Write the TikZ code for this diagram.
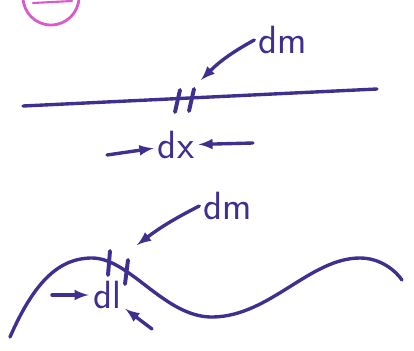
\documentclass[tikz,border=0pt]{standalone}
\usepackage{tikz}
\usetikzlibrary{arrows, positioning}
\definecolor{penblue}{HTML}{3F2F8E}
\definecolor{penpink}{HTML}{DA5ACB}

\begin{document}
\begin{tikzpicture}[x=0.025cm, y=-0.025cm, line cap=round, >=latex,
        pen/.style={penblue, line width=2.4pt},
        tick/.style={penblue, line width=2.8pt},
        lbl/.style={penblue, font=\sffamily\fontsize{28}{30}\selectfont, inner sep=3pt}]
        \useasboundingbox (0,0) rectangle (414,350);

        % Marker circle, cut off at the top
        \begin{scope}
            \clip (0,0) rectangle (414,350);
            \draw[penpink, line width=2pt] (51,-3) circle[radius=0.7cm];
            \draw[penpink, line width=1.5pt] (33,3) -- (72,1);
        \end{scope}

        % Straight wire
        \coordinate (wa) at (23,106);
        \coordinate (wb) at (377,89);
        \draw[pen] (wa) -- (wb);
        \draw[tick] (180,90) -- (175,112);
        \draw[tick] (194,89) -- (189,111);
        \node[lbl] (dmtop) at (283,40) {dm};
        \coordinate (tiptop) at (201,80);
        \draw[pen, ->] (dmtop.west) to[bend right=8] (tiptop);
        \node[lbl] (dx) at (176,145) {dx};
        \coordinate (dxl) at (107,155);
        \coordinate (dxr) at (253,143);
        \draw[pen, ->] (dxl) -- (dx);
        \draw[pen, ->] (dxr) -- (dx);

        % Curved wire
        \draw[pen] (10,337) .. controls (35,280) and (60,258) .. (92,258)
            .. controls (130,258) and (165,318) .. (213,317)
            .. controls (270,316) and (310,258) .. (360,258)
            .. controls (380,258) and (395,270) .. (402,280);
        \draw[tick] (110,251) -- (108,275);
        \draw[tick] (128,260) -- (125,284);
        \node[lbl] (dmbot) at (228,206) {dm};
        \coordinate (tipbot) at (137,245);
        \draw[pen, ->] (dmbot.west) to[bend right=5] (tipbot);
        \node[lbl] (dl) at (107,295) {dl};
        \coordinate (dll) at (52,295);
        \coordinate (dlr) at (152,329);
        \draw[pen, ->] (dll) -- (dl);
        \draw[pen, ->] (dlr) -- (dl);
\end{tikzpicture}
\end{document}
